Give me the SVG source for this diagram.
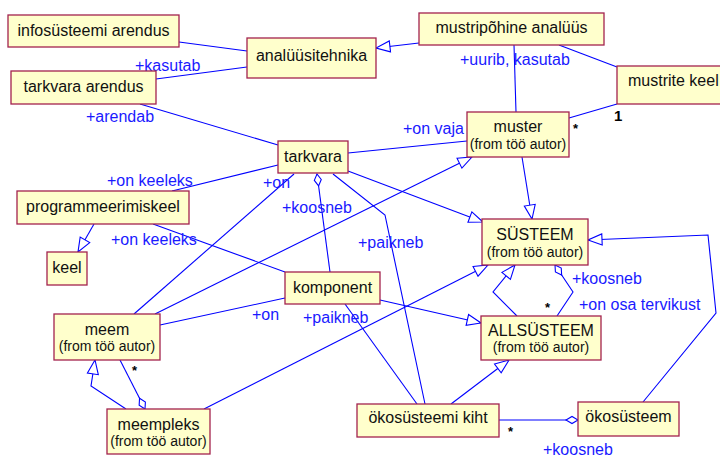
<svg xmlns="http://www.w3.org/2000/svg" width="720" height="457" viewBox="0 0 720 457">
  <style>
    .node rect { fill: #ffffcc; stroke: #a3234e; stroke-width: 1.3; }
    .name { font-family: "Liberation Sans", Arial, sans-serif; font-size: 16px; fill: #111; text-anchor: middle; }
    .from { font-family: "Liberation Sans", Arial, sans-serif; font-size: 14px; fill: #111; text-anchor: middle; }
    .lbl { font-family: "Liberation Sans", Arial, sans-serif; font-size: 16px; fill: #1a1aff; }
    .mult { font-family: "Liberation Sans", Arial, sans-serif; font-size: 13px; font-weight: bold; fill: #000; }
    #connectors path { fill: none; stroke: #0000ff; stroke-width: 1.1; }
    .gen { marker-end: url(#tri); }
    .agg { marker-start: url(#dia); }
  </style>
  <defs>
    <marker id="tri" markerUnits="userSpaceOnUse" markerWidth="18" markerHeight="14" refX="15" refY="7" orient="auto">
      <path d="M1,1.5 L15,7 L1,12.5 Z" fill="#ffffff" stroke="#0000ff" stroke-width="1.1"/>
    </marker>
    <marker id="dia" markerUnits="userSpaceOnUse" markerWidth="16" markerHeight="10" refX="1" refY="5" orient="auto">
      <path d="M1,5 L7,1.5 L13,5 L7,8.5 Z" fill="#ffffff" stroke="#0000ff" stroke-width="1.1"/>
    </marker>
  </defs>
  <rect width="720" height="457" fill="#ffffff"/>

  <g id="connectors">
    <path d="M179,42 L247,51"/>
    <path d="M156,79 L247,67"/>
    <path class="gen" d="M419,43 L376,48"/>
    <path d="M559,45 L617,67"/>
    <path d="M514,45 L516,112"/>
    <path d="M569,118 L617,104"/>
    <path d="M140,104 L278,145"/>
    <path d="M348,153 L467,141"/>
    <path class="gen" d="M348,171 L483,222"/>
    <path d="M333,174 L385,215 L425,404"/>
    <path class="agg" d="M317,174 L330,272"/>
    <path d="M294,174 L134,314"/>
    <path d="M278,165 L172,191"/>
    <path class="gen" d="M155,314 L472,157"/>
    <path class="gen" d="M94,224 L78,252"/>
    <path d="M153,224 L285,272"/>
    <path d="M285,298 L160,325"/>
    <path class="gen" d="M380,300 L481,323"/>
    <path d="M345,304 L417,404"/>
    <path class="gen" d="M204,409 L488,265"/>
    <path class="gen" d="M522,157 L532,219"/>
    <path class="gen" d="M643,402 L716,313 L708,235 L588,240"/>
    <path class="gen" d="M517,316 L493,292 L515,265"/>
    <path class="agg" d="M555,265 L573,292 L557,316"/>
    <path class="gen" d="M451,404 L509,360"/>
    <path class="agg" d="M578,420 L499,420"/>
    <path class="gen" d="M126,409 L91,386 L95,360"/>
    <path class="agg" d="M145,409 L120,360"/>
  </g>

  <g id="labels">
    <text class="lbl" x="135" y="71">+kasutab</text>
    <text class="lbl" x="86" y="122">+arendab</text>
    <text class="lbl" x="460" y="65">+uurib, kasutab</text>
    <text class="lbl" x="403" y="134">+on vaja</text>
    <text class="lbl" x="107" y="186">+on keeleks</text>
    <text class="lbl" x="263" y="188">+on</text>
    <text class="lbl" x="282" y="213">+koosneb</text>
    <text class="lbl" x="358" y="248">+paikneb</text>
    <text class="lbl" x="111" y="245">+on keeleks</text>
    <text class="lbl" x="252" y="320">+on</text>
    <text class="lbl" x="303" y="323">+paikneb</text>
    <text class="lbl" x="572" y="284">+koosneb</text>
    <text class="lbl" x="579" y="310">+on osa tervikust</text>
    <text class="lbl" x="543" y="455">+koosneb</text>
    <text class="mult" x="573" y="133">*</text>
    <text class="mult" x="614" y="121" style="font-size:15px">1</text>
    <text class="mult" x="132" y="375">*</text>
    <text class="mult" x="545" y="312">*</text>
    <text class="mult" x="508" y="436">*</text>
  </g>

  <g id="infosysteemi-arendus" class="node">
    <rect x="8" y="15" width="171" height="32"/>
    <text class="name" x="93.5" y="36">infosüsteemi arendus</text>
  </g>
  <g id="analyysitehnika" class="node">
    <rect x="247" y="38" width="129" height="40"/>
    <text class="name" x="311.5" y="61">analüüsitehnika</text>
  </g>
  <g id="tarkvara-arendus" class="node">
    <rect x="11" y="71" width="145" height="33"/>
    <text class="name" x="83.5" y="92">tarkvara arendus</text>
  </g>
  <g id="mustripohine-analyys" class="node">
    <rect x="419" y="13" width="185" height="32"/>
    <text class="name" x="511.5" y="33">mustripõhine analüüs</text>
  </g>
  <g id="mustrite-keel" class="node">
    <rect x="617" y="66" width="112" height="38"/>
    <text class="name" x="628" y="86" style="text-anchor:start">mustrite keel</text>
  </g>
  <g id="muster" class="node">
    <rect x="467" y="112" width="102" height="45"/>
    <text class="name" x="518" y="132">muster</text>
    <text class="from" x="518" y="149">(from töö autor)</text>
  </g>
  <g id="tarkvara" class="node">
    <rect x="278" y="141" width="70" height="32"/>
    <text class="name" x="313" y="162">tarkvara</text>
  </g>
  <g id="programmeerimiskeel" class="node">
    <rect x="17" y="191" width="172" height="33"/>
    <text class="name" x="103" y="212">programmeerimiskeel</text>
  </g>
  <g id="keel" class="node">
    <rect x="47" y="252" width="40" height="33"/>
    <text class="name" x="67" y="273">keel</text>
  </g>
  <g id="komponent" class="node">
    <rect x="285" y="272" width="95" height="32"/>
    <text class="name" x="332.5" y="293">komponent</text>
  </g>
  <g id="systeem" class="node">
    <rect x="482" y="219" width="106" height="46"/>
    <text class="name" x="535" y="240">SÜSTEEM</text>
    <text class="from" x="535" y="257">(from töö autor)</text>
  </g>
  <g id="meem" class="node">
    <rect x="54" y="314" width="106" height="46"/>
    <text class="name" x="107" y="335">meem</text>
    <text class="from" x="107" y="351">(from töö autor)</text>
  </g>
  <g id="allsysteem" class="node">
    <rect x="481" y="316" width="120" height="44"/>
    <text class="name" x="541" y="336">ALLSÜSTEEM</text>
    <text class="from" x="541" y="352">(from töö autor)</text>
  </g>
  <g id="meempleks" class="node">
    <rect x="107" y="409" width="103" height="45"/>
    <text class="name" x="158.5" y="430">meempleks</text>
    <text class="from" x="158.5" y="446">(from töö autor)</text>
  </g>
  <g id="okosysteemi-kiht" class="node">
    <rect x="357" y="404" width="142" height="33"/>
    <text class="name" x="428" y="423">ökosüsteemi kiht</text>
  </g>
  <g id="okosysteem" class="node">
    <rect x="578" y="402" width="101" height="34"/>
    <text class="name" x="628.5" y="422">ökosüsteem</text>
  </g>
</svg>
